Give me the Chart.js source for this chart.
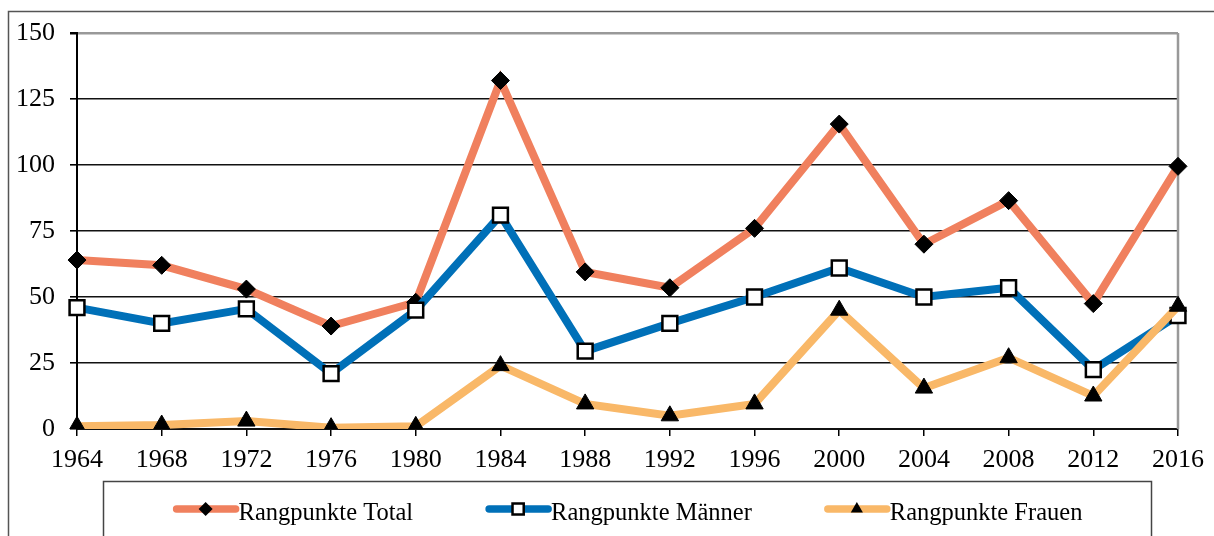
<!DOCTYPE html>
<html><head><meta charset="utf-8">
<script src="https://cdn.jsdelivr.net/npm/chart.js@4"></script>
<style>html,body{margin:0;padding:0;background:#fff}#wrap{width:1214px;height:536px;position:relative}</style>
</head><body><div id="wrap"><canvas id="c"></canvas></div>
<script>
const years = ['1964','1968','1972','1976','1980','1984','1988','1992','1996','2000','2004','2008','2012','2016'];
const total = [64, 62, 53, 39, 48, 132, 59.5, 53.5, 76, 115.5, 70, 86.5, 47.5, 99.5];
const maenner = [46, 40, 45.5, 21, 45, 81, 29.5, 40, 50, 61, 50, 53.5, 22.5, 43];
const frauen = [1, 1.5, 3, 0.5, 1, 24, 9.5, 5, 9.5, 45, 15.5, 27, 12.5, 46.5];
const yMin = 0, yMax = 150, yStep = 25;
const seriesNames = ['Rangpunkte Total', 'Rangpunkte Männer', 'Rangpunkte Frauen'];
const colors = ['#F0805E', '#0070B8', '#F9B868'];

const FONT = '"Liberation Serif", "Times New Roman", serif';

const framePlugin = {
  id: 'frame',
  beforeDraw(chart) {
    const ctx = chart.ctx;
    ctx.save();
    ctx.strokeStyle = '#555';
    ctx.lineWidth = 1.5;
    ctx.beginPath();
    ctx.moveTo(8.5, chart.height + 2);
    ctx.lineTo(8.5, 11.5);
    ctx.lineTo(chart.width + 2, 11.5);
    ctx.stroke();
    ctx.restore();
  },
  beforeDatasetsDraw(chart) {
    const ctx = chart.ctx, ca = chart.chartArea;
    ctx.save();
    ctx.strokeStyle = '#999';
    ctx.lineWidth = 2.5;
    ctx.beginPath();
    ctx.moveTo(ca.right, ca.top);
    ctx.lineTo(ca.right, ca.bottom);
    ctx.stroke();
    ctx.restore();
  }
};

function drawMarker(ctx, style, x, y, r) {
  ctx.beginPath();
  if (style === 'rectRot') {
    ctx.moveTo(x - r, y); ctx.lineTo(x, y - r); ctx.lineTo(x + r, y); ctx.lineTo(x, y + r); ctx.closePath();
    ctx.fillStyle = '#000'; ctx.fill();
  } else if (style === 'rect') {
    const s = r * 0.8;
    ctx.rect(x - s, y - s, 2 * s, 2 * s);
    ctx.fillStyle = '#fff'; ctx.fill();
    ctx.strokeStyle = '#000'; ctx.lineWidth = 2.5; ctx.stroke();
  } else {
    ctx.moveTo(x, y - r); ctx.lineTo(x + r * 0.866, y + r * 0.5); ctx.lineTo(x - r * 0.866, y + r * 0.5); ctx.closePath();
    ctx.fillStyle = '#000'; ctx.fill();
  }
}

const legendPlugin = {
  id: 'boxLegend',
  afterDraw(chart) {
    const ctx = chart.ctx, ca = chart.chartArea;
    const cx = (ca.left + ca.right) / 2;
    const boxW = 1048, top = 481.5, boxH = 60;
    ctx.save();
    ctx.strokeStyle = '#444';
    ctx.lineWidth = 1.5;
    ctx.strokeRect(cx - boxW / 2, top, boxW, boxH);
    ctx.font = '24.5px ' + FONT;
    const sample = 66, gap = 72;
    const widths = chart.data.datasets.map(d => ctx.measureText(d.label).width);
    const tw = widths.reduce((a, b) => a + b, 0) + sample * widths.length + gap * (widths.length - 1);
    let x = cx - tw / 2;
    const y = 509;
    chart.data.datasets.forEach((ds, i) => {
      ctx.strokeStyle = ds.borderColor;
      ctx.lineWidth = 7.5;
      ctx.lineCap = 'round';
      ctx.beginPath();
      ctx.moveTo(x + 4, y);
      ctx.lineTo(x + sample - 3, y);
      ctx.stroke();
      drawMarker(ctx, ds.pointStyle, x + sample / 2, y, 7);
      ctx.fillStyle = '#000';
      ctx.textBaseline = 'alphabetic';
      ctx.textAlign = 'left';
      ctx.fillText(ds.label, x + sample, 520);
      x += sample + widths[i] + gap;
    });
    ctx.restore();
  }
};

new Chart(document.getElementById('c'), {
  type: 'line',
  data: {
    labels: years,
    datasets: [
      { label: seriesNames[0], data: total, borderColor: colors[0], backgroundColor: '#000',
        borderWidth: 8, pointStyle: 'rectRot', pointRadius: 9, pointBackgroundColor: '#000',
        pointBorderColor: '#000', pointBorderWidth: 1, order: 2, tension: 0 },
      { label: seriesNames[1], data: maenner, borderColor: colors[1], backgroundColor: '#fff',
        borderWidth: 8, pointStyle: 'rect', pointRadius: 10.5, pointBackgroundColor: '#fff',
        pointBorderColor: '#000', pointBorderWidth: 2.5, order: 1, tension: 0 },
      { label: seriesNames[2], data: frauen, borderColor: colors[2], backgroundColor: '#000',
        borderWidth: 8, pointStyle: 'triangle', pointRadius: 10, pointBackgroundColor: '#000',
        pointBorderColor: '#000', pointBorderWidth: 1, order: 0, tension: 0 }
    ]
  },
  options: {
    responsive: true,
    maintainAspectRatio: false,
    animation: false,
    layout: { padding: { top: 33, right: 36, left: 0, bottom: 62 } },
    plugins: { legend: { display: false }, tooltip: { enabled: false } },
    scales: {
      x: {
        offset: false,
        afterFit(s) { s.height = 45; },
        grid: { drawOnChartArea: false, drawTicks: true, tickLength: 7, color: '#000', lineWidth: 1.5 },
        border: { color: '#111', width: 2 },
        ticks: { color: '#000', font: { family: FONT, size: 26 }, padding: 9, maxRotation: 0, autoSkip: false }
      },
      y: {
        min: yMin, max: yMax,
        afterFit(s) { s.width = 77; },
        grid: {
          drawTicks: true, tickLength: 7,
          color: ctx => (ctx.tick && ctx.tick.value === yMax) ? '#999' : '#111',
          lineWidth: ctx => (ctx.tick && ctx.tick.value === yMax) ? 2.5 : 1.6,
          tickColor: '#000'
        },
        border: { color: '#000', width: 2 },
        ticks: { stepSize: yStep, color: '#000', font: { family: FONT, size: 26 }, padding: 15 }
      }
    }
  },
  plugins: [framePlugin, legendPlugin]
});
</script>
</body></html>
